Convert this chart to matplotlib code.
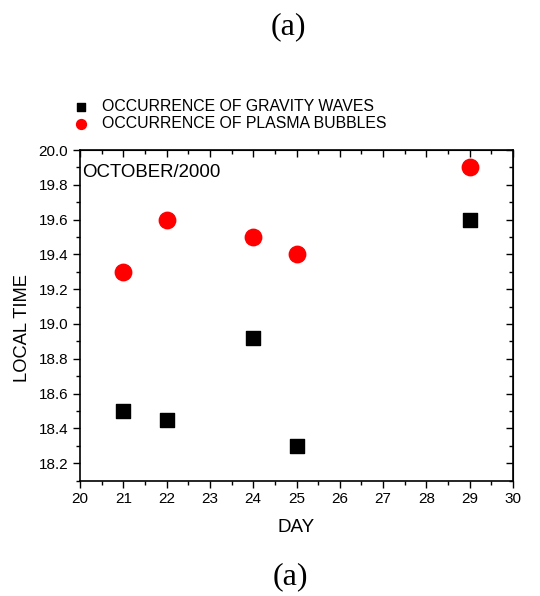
import matplotlib
matplotlib.use("Agg")
import matplotlib.pyplot as plt
from matplotlib.ticker import MultipleLocator, FormatStrFormatter

days_gw = [21, 22, 24, 25, 29]
time_gw = [18.50, 18.45, 18.92, 18.30, 19.60]
days_pb = [21, 22, 24, 25, 29]
time_pb = [19.30, 19.60, 19.50, 19.40, 19.90]
label_gw = "OCCURRENCE OF GRAVITY WAVES"
label_pb = "OCCURRENCE OF PLASMA BUBBLES"

plt.rcParams['font.family'] = ['Liberation Sans', 'DejaVu Sans']

fig = plt.figure(figsize=(5.4, 5.96), dpi=100)
ax = fig.add_axes([80/540, 1-480.5/596, (513-80)/540, (480.5-150)/596])

ax.scatter(days_gw, time_gw, marker='s', s=108, color='black', label=label_gw, zorder=3)
ax.scatter(days_pb, time_pb, marker='o', s=140, color='#ff0000', label=label_pb, zorder=3)

ax.set_xlim(20, 30)
ax.set_ylim(18.1, 20.0)
ax.xaxis.set_major_locator(MultipleLocator(1))
ax.xaxis.set_minor_locator(MultipleLocator(0.5))
ax.yaxis.set_major_locator(MultipleLocator(0.2))
ax.yaxis.set_minor_locator(MultipleLocator(0.1))
ax.yaxis.set_major_formatter(FormatStrFormatter('%.1f'))
ax.tick_params(which='both', direction='out', top=False, right=False, labelsize=11, width=1)
ax.tick_params(which='major', length=5)
ax.tick_params(which='minor', length=3)
axt = ax.secondary_xaxis('top')
axt.xaxis.set_major_locator(MultipleLocator(1))
axt.xaxis.set_minor_locator(MultipleLocator(0.5))
axt.tick_params(which='both', direction='in', labeltop=False, width=1)
axt.tick_params(which='major', length=5)
axt.tick_params(which='minor', length=3)
axr = ax.secondary_yaxis('right')
axr.yaxis.set_major_locator(MultipleLocator(0.2))
axr.yaxis.set_minor_locator(MultipleLocator(0.1))
axr.tick_params(which='both', direction='in', labelright=False, width=1)
axr.tick_params(which='major', length=5)
axr.tick_params(which='minor', length=3)
for sp in ax.spines.values():
    sp.set_linewidth(1.2)

ax.set_xlabel("DAY", fontsize=13.5, labelpad=9)
ax.set_ylabel("LOCAL TIME", fontsize=13.2)
ax.yaxis.set_label_coords(-0.113, 0.46)
ax.text(0.005, 0.933, "OCTOBER/2000", transform=ax.transAxes, fontsize=13.4,
        ha='left', va='center')

fig.legend(loc='center left', bbox_to_anchor=(64/540, 1-115/596), frameon=False,
           fontsize=11.4, handletextpad=0.7, labelspacing=0.12, borderpad=0,
           handlelength=1.2, markerscale=0.6)

fig.text(288/540, 1-27/596, "(a)", fontsize=23, family=['Liberation Serif'], ha='center', va='center')
fig.text(290/540, 1-577/596, "(a)", fontsize=23, family=['Liberation Serif'], ha='center', va='center')

fig.savefig("out.png", dpi=100)
